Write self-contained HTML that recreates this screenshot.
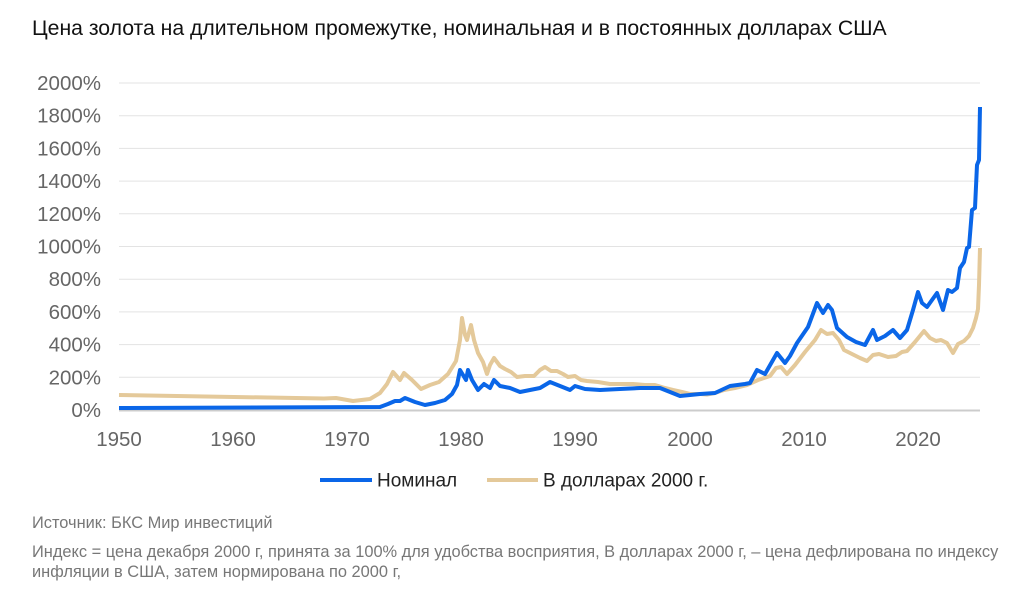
<!DOCTYPE html>
<html><head><meta charset="utf-8"><style>
body{margin:0;background:#fff;font-family:"Liberation Sans",sans-serif;}
svg{display:block}
</style></head><body>
<svg width="1024" height="600" xmlns="http://www.w3.org/2000/svg" font-family="Liberation Sans, sans-serif">
<text x="32" y="35" font-size="21.2" fill="#111">Цена золота на длительном промежутке, номинальная и в постоянных долларах США</text>
<g stroke="#e3e3e3" stroke-width="1">
<line x1="119" x2="980" y1="83" y2="83"/><line x1="119" x2="980" y1="115.7" y2="115.7"/><line x1="119" x2="980" y1="148.4" y2="148.4"/><line x1="119" x2="980" y1="181.1" y2="181.1"/><line x1="119" x2="980" y1="213.8" y2="213.8"/><line x1="119" x2="980" y1="246.5" y2="246.5"/><line x1="119" x2="980" y1="279.2" y2="279.2"/><line x1="119" x2="980" y1="311.9" y2="311.9"/><line x1="119" x2="980" y1="344.6" y2="344.6"/><line x1="119" x2="980" y1="377.3" y2="377.3"/>
</g>
<line x1="119" x2="980" y1="410.5" y2="410.5" stroke="#ccc" stroke-width="2"/>
<g font-size="20.5" fill="#666" text-anchor="end">
<text x="101" y="90">2000%</text><text x="101" y="122.7">1800%</text><text x="101" y="155.4">1600%</text><text x="101" y="188.1">1400%</text><text x="101" y="220.8">1200%</text><text x="101" y="253.5">1000%</text><text x="101" y="286.2">800%</text><text x="101" y="318.9">600%</text><text x="101" y="351.6">400%</text><text x="101" y="384.3">200%</text><text x="101" y="417">0%</text>
</g>
<g font-size="20.5" fill="#666" text-anchor="middle">
<text x="119" y="446">1950</text><text x="233" y="446">1960</text><text x="347" y="446">1970</text><text x="461" y="446">1980</text><text x="575" y="446">1990</text><text x="690" y="446">2000</text><text x="804" y="446">2010</text><text x="918" y="446">2020</text>
</g>
<polyline fill="none" stroke="#e4c99a" stroke-width="4" stroke-linejoin="round" points="119,395 324,398.5 336,398 353,401 370,399 380,393 387,384 393,372 400,380 404,373 412,380 421,389 430,385 439,382 448,374 456,361 460,340 462,318 465,335 467,340 471,325 474,340 478,353 483,362 487,374 490,365 494,358 500,366 505,369 511,372 517,377 525,376 534,376 540,370 545,367 551,371 557,371 563,374 568,377 575,376 581,380 587,381 598,382 610,384 620,384 633,384 645,385 655,385 665,388 673,390 682,392 690,394 700,394 707,394.5 715,393 724,390 735,388 747,385 758,380 770,376 776,368 781,367 787,374 795,365 805,352 815,340 821,330 827,334 833,333 839,340 844,350 852,354 860,358 867,361 873,355 879,354 888,357 896,356 902,352 907,351 915,342 924,331 930,338 936,341 941,340 947,343 953,353 958,344 964,341 969,336 973,328 976,318 978,309 979,285 980,248"/>
<polyline fill="none" stroke="#0a66e8" stroke-width="4" stroke-linejoin="round" points="119,408 380,407 388,404 395,401 400,401 405,398 415,402 425,405 435,403 445,400 452,394 457,385 460,370 463,375 466,380 468,370 472,380 478,390 484,384 490,388 494,380 500,386 510,388 520,392 530,390 540,388 550,382 560,386 570,390 575,386 585,389 600,390 620,389 640,388 660,388 670,392 680,396 690,395 700,394 715,393 730,386 745,384 750,383 757,370 765,374 777,353 785,363 790,356 797,343 808,327 817,303 823,313 828,305 832,310 837,328 847,337 856,342 865,345 873,330 877,340 885,336 893,330 900,338 907,330 913,310 918,292 922,303 927,307 932,300 937,293 943,310 948,290 952,292 957,288 960,268 964,262 967,248 969,247 972,210 975,208 977,165 979,160 980,107"/>
<line x1="320" x2="372" y1="480" y2="480" stroke="#0a66e8" stroke-width="4"/>
<text x="377" y="486.5" font-size="19" fill="#222">Номинал</text>
<line x1="487" x2="538" y1="480" y2="480" stroke="#e4c99a" stroke-width="4"/>
<text x="543" y="486.5" font-size="19" fill="#222">В долларах 2000 г.</text>
<g font-size="16.4" fill="#777">
<text x="32" y="528">Источник: БКС Мир инвестиций</text>
<text x="32" y="557">Индекс = цена декабря 2000 г, принята за 100% для удобства восприятия, В долларах 2000 г, – цена дефлирована по индексу</text>
<text x="32" y="577">инфляции в США, затем нормирована по 2000 г,</text>
</g>
</svg>
</body></html>
